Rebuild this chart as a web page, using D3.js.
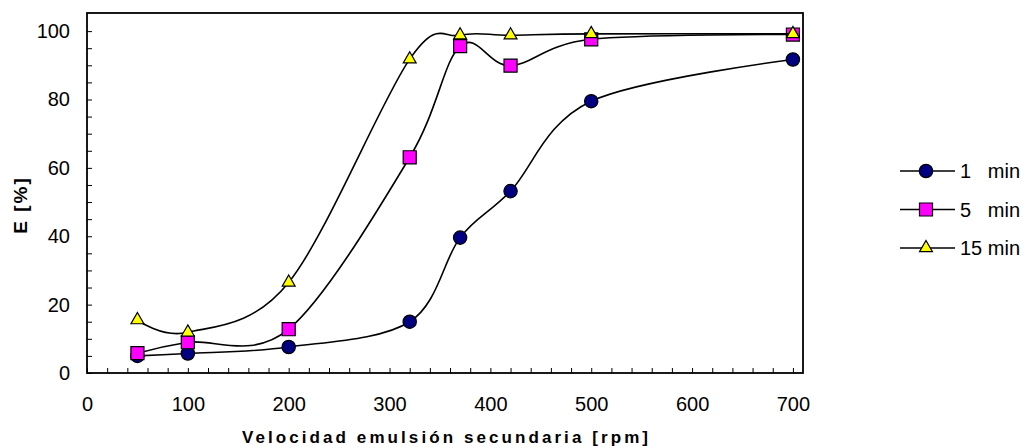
<!DOCTYPE html>
<html>
<head>
<meta charset="utf-8">
<script src="https://cdn.jsdelivr.net/npm/d3@7"></script>
<style>
  body { margin: 0; background: #fff; }
  svg { font-family: "Liberation Sans", Arial, sans-serif; }
</style>
</head>
<body>
<div id="chart"></div>
<script>
// data
var rpm = [50, 100, 200, 320, 370, 420, 500, 700];
var e1min  = [5.0, 5.7, 7.6, 15.0, 39.6, 53.2, 79.5, 91.7];
var e5min  = [5.8, 9.0, 12.8, 63.1, 95.6, 89.9, 97.6, 99.0];
var e15min = [15.5, 11.9, 26.5, 91.8, 98.8, 98.8, 99.2, 99.2];
var seriesNames = ["1   min", "5   min", "15 min"];
var xTicks = [0, 100, 200, 300, 400, 500, 600, 700];
var yTicks = [0, 20, 40, 60, 80, 100];

var width = 1025,
    height = 448;
var margin = {left: 87, top: 13, right: 222, bottom: 75};

var svg = d3.select("#chart")
  .append("svg")
    .attr("width", width)
    .attr("height", height);

var x = d3.scaleLinear().domain([0, 710]).range([margin.left, width - margin.right]);
var y = d3.scaleLinear().domain([0, 105.3]).range([height - margin.bottom, margin.top]);

var series = [
  {name: seriesNames[0], values: e1min,  symbol: d3.symbolCircle,   size: 140, fill: "#000080"},
  {name: seriesNames[1], values: e5min,  symbol: d3.symbolSquare,   size: 170, fill: "#ff00ff"},
  {name: seriesNames[2], values: e15min, symbol: d3.symbolTriangle, size: 72,  fill: "#ffff00"}
];

// minor ticks (inside)
svg.append("g")
    .attr("transform", "translate(0," + y(0) + ")")
    .call(d3.axisTop(x).tickValues(d3.range(0, 701, 20)).tickSize(5).tickFormat(""))
    .call(g => g.select(".domain").remove());
svg.append("g")
    .attr("transform", "translate(" + x(0) + ",0)")
    .call(d3.axisRight(y).tickValues(d3.range(0, 101, 5)).tickSize(5).tickFormat(""))
    .call(g => g.select(".domain").remove());

// tick labels
var xAxis = svg.append("g")
    .attr("transform", "translate(0," + y(0) + ")")
    .call(d3.axisBottom(x).tickValues(xTicks).tickSize(0).tickPadding(24));
xAxis.select(".domain").remove();
xAxis.selectAll("text").attr("font-size", 20).attr("fill", "#000").attr("font-family", "Liberation Sans, Arial, sans-serif");

var yAxis = svg.append("g")
    .attr("transform", "translate(" + x(0) + ",0)")
    .call(d3.axisLeft(y).tickValues(yTicks).tickSize(0).tickPadding(17));
yAxis.select(".domain").remove();
yAxis.selectAll("text").attr("font-size", 20).attr("fill", "#000").attr("font-family", "Liberation Sans, Arial, sans-serif");

// plot frame
svg.append("rect")
    .attr("x", margin.left)
    .attr("y", margin.top)
    .attr("width", width - margin.right - margin.left)
    .attr("height", height - margin.bottom - margin.top)
    .attr("fill", "none")
    .attr("stroke", "#000")
    .attr("stroke-width", 1.8);

// smoothed lines like excel
var line = d3.line()
    .x((d, i) => x(rpm[i]))
    .y(d => y(d))
    .curve(d3.curveCardinal.tension(0));

series.forEach(function(s){
  svg.append("path")
      .attr("d", line(s.values))
      .attr("fill", "none")
      .attr("stroke", "#000")
      .attr("stroke-width", 1.6);
  svg.selectAll(null)
      .data(s.values)
      .enter()
      .append("path")
      .attr("transform", (d, i) => "translate(" + x(rpm[i]) + "," + y(d) + ")")
      .attr("d", d3.symbol().type(s.symbol).size(s.size))
      .attr("fill", s.fill)
      .attr("stroke", "#000")
      .attr("stroke-width", 1.2);
});

// legend
var legend = svg.append("g").attr("transform", "translate(900,171)");
series.forEach(function(s, i){
  var g = legend.append("g").attr("transform", "translate(0," + i * 38.5 + ")");
  g.append("line").attr("x1", 0).attr("x2", 55).attr("stroke", "#000").attr("stroke-width", 1.6);
  g.append("path")
      .attr("transform", "translate(26,0)")
      .attr("d", d3.symbol().type(s.symbol).size(s.size))
      .attr("fill", s.fill)
      .attr("stroke", "#000")
      .attr("stroke-width", 1.2);
  g.append("text")
      .attr("x", 60)
      .attr("y", 7)
      .attr("font-size", 20)
      .style("white-space", "pre")
      .text(s.name);
});

// axis titles
svg.append("text")
    .attr("x", 445)
    .attr("y", 443)
    .attr("text-anchor", "middle")
    .attr("font-size", 17)
    .attr("font-weight", "bold")
    .attr("textLength", 406)
    .attr("lengthAdjust", "spacing")
    .text("Velocidad emulsión secundaria [rpm]");

svg.append("text")
    .attr("transform", "translate(27,205) rotate(-90)")
    .attr("text-anchor", "middle")
    .attr("font-size", 19)
    .attr("font-weight", "bold")
    .attr("letter-spacing", 2)
    .text("E [%]");
</script>
</body>
</html>
